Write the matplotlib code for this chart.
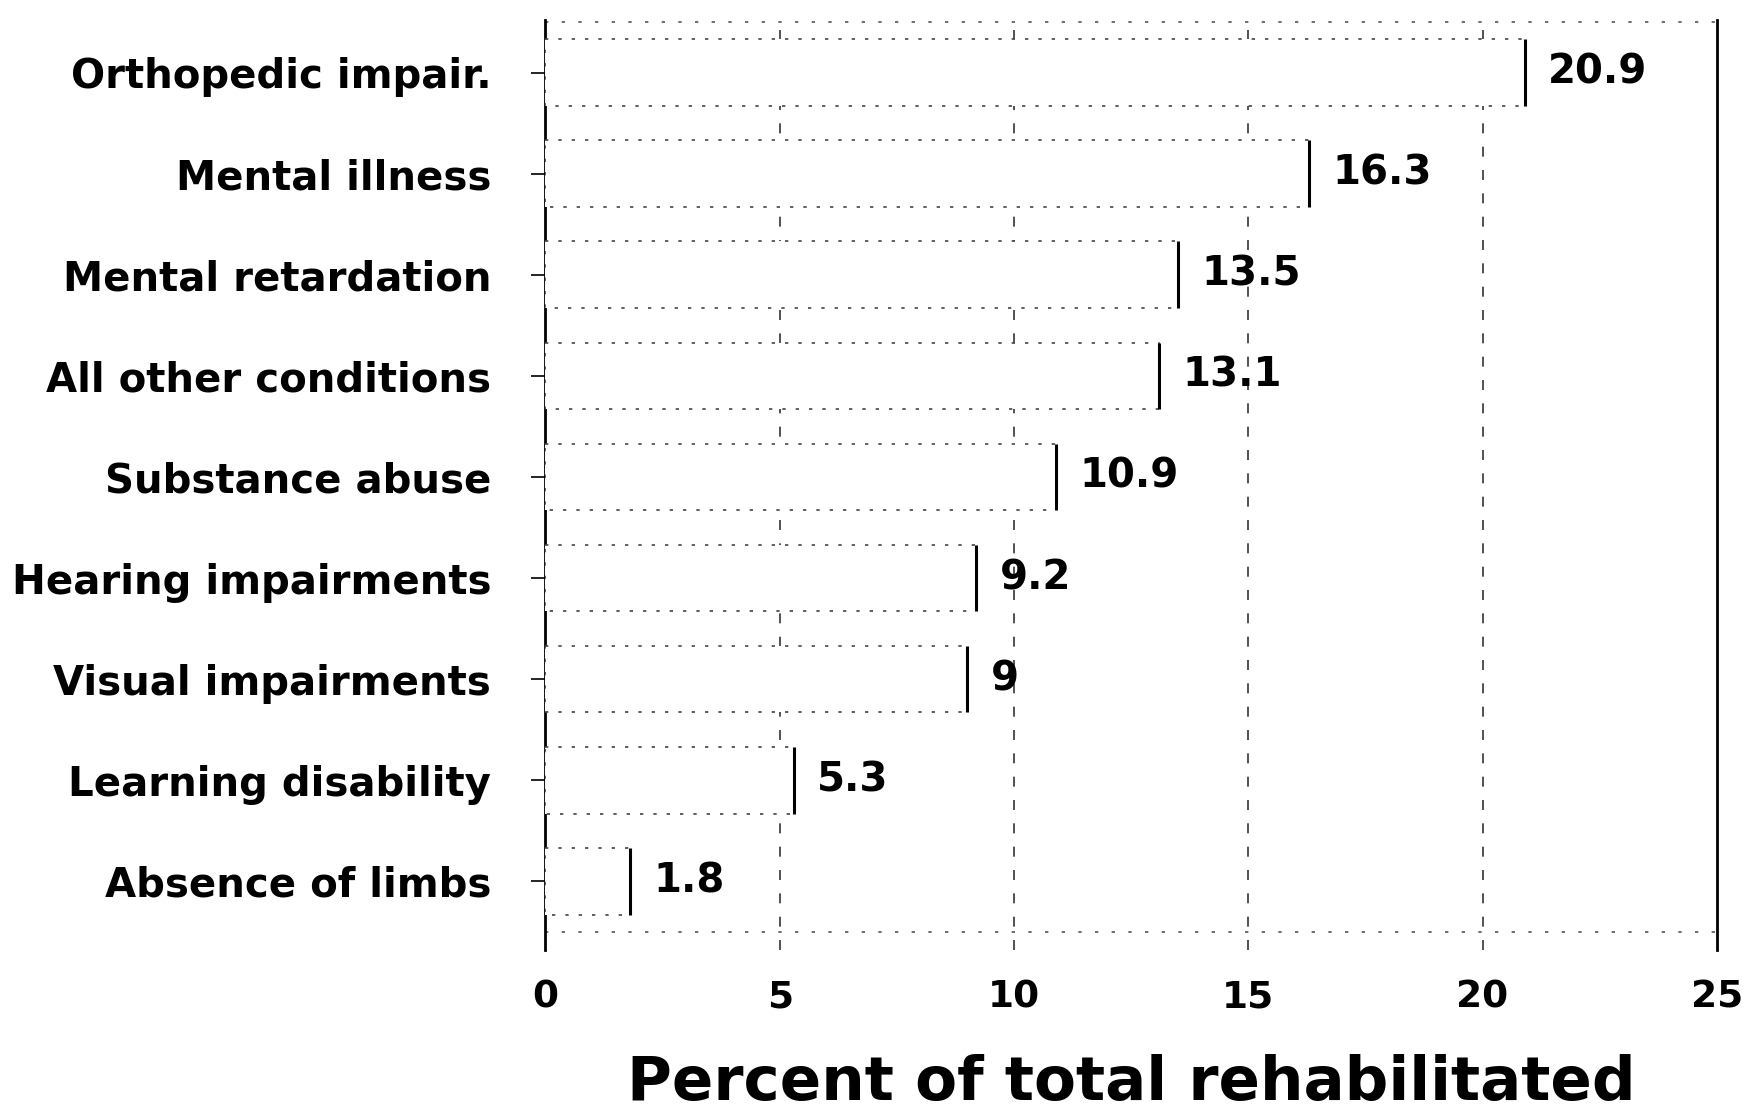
import numpy as np
import matplotlib.pyplot as plt

# data
categories = ["Orthopedic impair.", "Mental illness", "Mental retardation",
              "All other conditions", "Substance abuse", "Hearing impairments",
              "Visual impairments", "Learning disability", "Absence of limbs"]
percent = [20.9, 16.3, 13.5, 13.1, 10.9, 9.2, 9.0, 5.3, 1.8]
value_labels = ["20.9", "16.3", "13.5", "13.1", "10.9", "9.2", "9", "5.3", "1.8"]
xticks = [0, 5, 10, 15, 20, 25]

plt.rcParams['font.family'] = ['DejaVu Sans']

fig = plt.figure(figsize=(17.56, 11.15), dpi=100)
ax = fig.add_axes([0.3106, 0.148, 0.6671, 0.834])

y = np.arange(len(categories))
bh = 0.66

# bars: white boxes with faint dotted top/bottom, solid right end
ax.barh(y, percent, height=bh, color='white', edgecolor='#444444',
        linewidth=1.2, linestyle=(0, (2, 6)), zorder=3)
ax.vlines(percent, y - bh / 2, y + bh / 2, color='black', linewidth=2.2, zorder=4)

for yi, v, lab in zip(y, percent, value_labels):
    ax.text(v + 0.5, yi, lab, va='center', ha='left', fontsize=29,
            fontweight='bold', zorder=5)

# dashed gridlines
for xv in xticks[1:-1]:
    ax.axvline(xv, color='#333333', linewidth=1.2, linestyle=(0, (6, 8)), zorder=1)
ax.axhline(-0.5, color='#555555', linewidth=1.2, linestyle=(0, (2, 8)), zorder=1)
ax.axhline(len(categories) - 0.5, color='#555555', linewidth=1.2,
           linestyle=(0, (2, 8)), zorder=1)

ax.set_xlim(0, 25)
ax.set_ylim(len(categories) - 1 + 0.68, -0.52)
ax.set_yticks(y)
ax.set_yticklabels(categories, fontsize=29, fontweight='bold')
ax.set_xticks(xticks)
ax.set_xticklabels([str(t) for t in xticks], fontsize=27, fontweight='bold')
ax.tick_params(axis='y', length=10, width=1.2, pad=29)
ax.tick_params(axis='x', length=0, pad=21)

for side in ['top', 'bottom']:
    ax.spines[side].set_visible(False)
for side in ['left', 'right']:
    ax.spines[side].set_linewidth(2)

ax.set_xlabel("Percent of total rehabilitated", fontsize=44, fontweight='bold')
ax.xaxis.label.set_va('baseline')
ax.xaxis.set_label_coords(0.5, -0.161)

fig.savefig("out.png", dpi=100)
